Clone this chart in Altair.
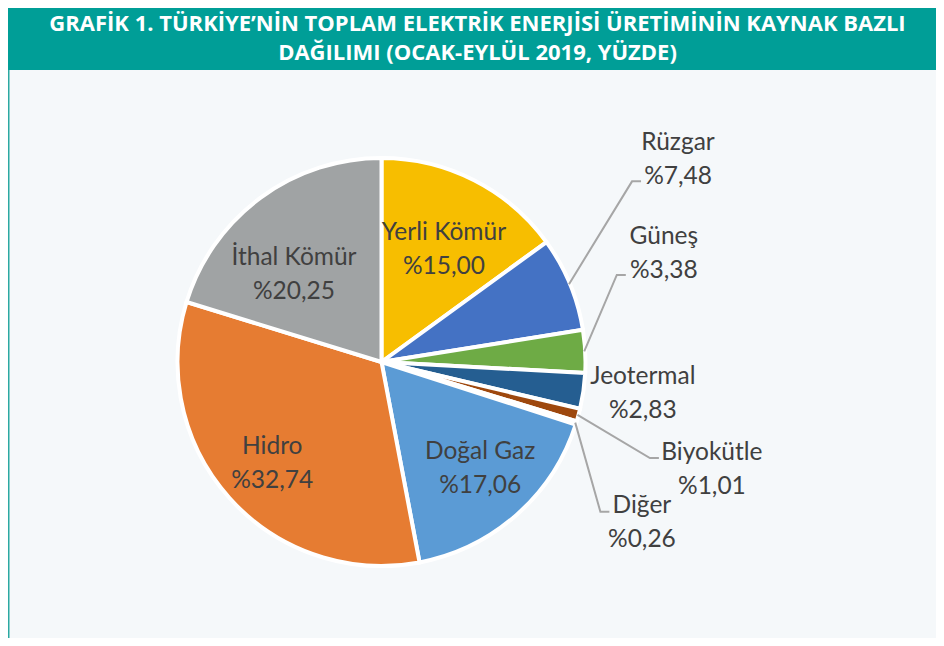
import math
import altair as alt
import pandas as pd

# ---- data ----
categories = ["Yerli Kömür", "Rüzgar", "Güneş", "Jeotermal", "Biyokütle",
              "Diğer", "Doğal Gaz", "Hidro", "İthal Kömür"]
values = [15.00, 7.48, 3.38, 2.83, 1.01, 0.26, 17.06, 32.74, 20.25]
colors = ["#F7BE00", "#4472C4", "#6EAB45", "#255E91", "#9E480E",
          "#636363", "#5B9BD5", "#E67C32", "#A0A3A4"]
title_lines = ["GRAFİK 1. TÜRKİYE’NİN TOPLAM ELEKTRİK ENERJİSİ ÜRETİMİNİN KAYNAK BAZLI",
               "DAĞILIMI (OCAK-EYLÜL 2019, YÜZDE)"]

# ---- layout / style ----
W, H = 928, 630
CX, CY, R = 373.5, 354.0, 204
# label placement: (radius from centre, angle shift from slice mid-angle in degrees)
label_place = {
    "Yerli Kömür": (130, 1.7), "Rüzgar": (360, -12.0), "Güneş": (303, -18.3),
    "Jeotermal": (263, -1.7), "Biyokütle": (347, 2.7), "Diğer": (305, 14.0),
    "Doğal Gaz": (144, -1.8), "Hidro": (148, -0.6), "İthal Kömür": (125, -8.0),
}
# leader elbow offset relative to the label block centre
leader_elbow = {"Rüzgar": (-46, 23.5), "Güneş": (-47, 23), "Biyokütle": (-62, -10), "Diğer": (-41.5, -9)}

total = sum(values)
pie_df = pd.DataFrame({"cat": categories, "value": values, "idx": list(range(len(values)))})

text_rows, line_rows = [], []
cum = 0.0
for c, v in zip(categories, values):
    mid = (cum + v / 2) / total * 360.0
    cum += v
    r, shift = label_place[c]
    a = math.radians(mid + shift)
    lx, ly = CX + r * math.sin(a), CY - r * math.cos(a)
    pct = "%" + f"{v:.2f}".replace(".", ",")
    text_rows.append({"x": lx, "y": ly - 8, "t": c})
    text_rows.append({"x": lx, "y": ly + 26, "t": pct})
    if c in leader_elbow:
        am = math.radians(mid)
        sx, sy = CX + (R - 1) * math.sin(am), CY - (R - 1) * math.cos(am)
        ex, ey = lx + leader_elbow[c][0], ly + leader_elbow[c][1]
        for i, (px, py) in enumerate([(sx, sy), (ex, ey), (ex + 9, ey)]):
            line_rows.append({"cat": c, "pt": i, "x": px, "y": py})

text_df = pd.DataFrame(text_rows)
line_df = pd.DataFrame(line_rows)
title_df = pd.DataFrame({"t": title_lines, "y": [22.5, 52.0]})
one = pd.DataFrame({"a": [0]})

bar = alt.Chart(one).mark_rect(color="#009E97").encode(
    x=alt.value(0), x2=alt.value(W), y=alt.value(0), y2=alt.value(62))
border = alt.Chart(one).mark_rule(color="#2BA9A2", strokeWidth=1.5).encode(
    x=alt.value(0.75), y=alt.value(62), y2=alt.value(H))
title = alt.Chart(title_df).mark_text(
    font="Open Sans", fontWeight="bold", fontSize=22, color="white",
    align="center", baseline="alphabetic").encode(
    x=alt.value(469.5), y=alt.Y("y:Q", scale=None, axis=None), text="t:N")

pie = alt.Chart(pie_df).mark_arc(radius=R, stroke="white", strokeWidth=4).encode(
    theta=alt.Theta("value:Q", stack=True),
    order=alt.Order("idx:Q"),
    color=alt.Color("cat:N", scale=alt.Scale(domain=categories, range=colors), legend=None),
    x=alt.value(CX), y=alt.value(CY),
)

leaders = alt.Chart(line_df).mark_line(color="#A6A6A6", strokeWidth=2).encode(
    x=alt.X("x:Q", scale=None, axis=None),
    y=alt.Y("y:Q", scale=None, axis=None),
    detail="cat:N", order="pt:Q")

labels = alt.Chart(text_df).mark_text(
    font="Lato", fontSize=24.5, color="#404040", align="center", baseline="alphabetic").encode(
    x=alt.X("x:Q", scale=None, axis=None),
    y=alt.Y("y:Q", scale=None, axis=None),
    text="t:N")

chart = alt.layer(bar, border, title, pie, leaders, labels).properties(
    width=W, height=H, padding=0, background="#F5F8FA",
    autosize=alt.AutoSizeParams(type="fit", contains="padding"),
).configure_view(stroke=None)

chart.save("out.html", embed_options={"renderer": "svg", "actions": False})
